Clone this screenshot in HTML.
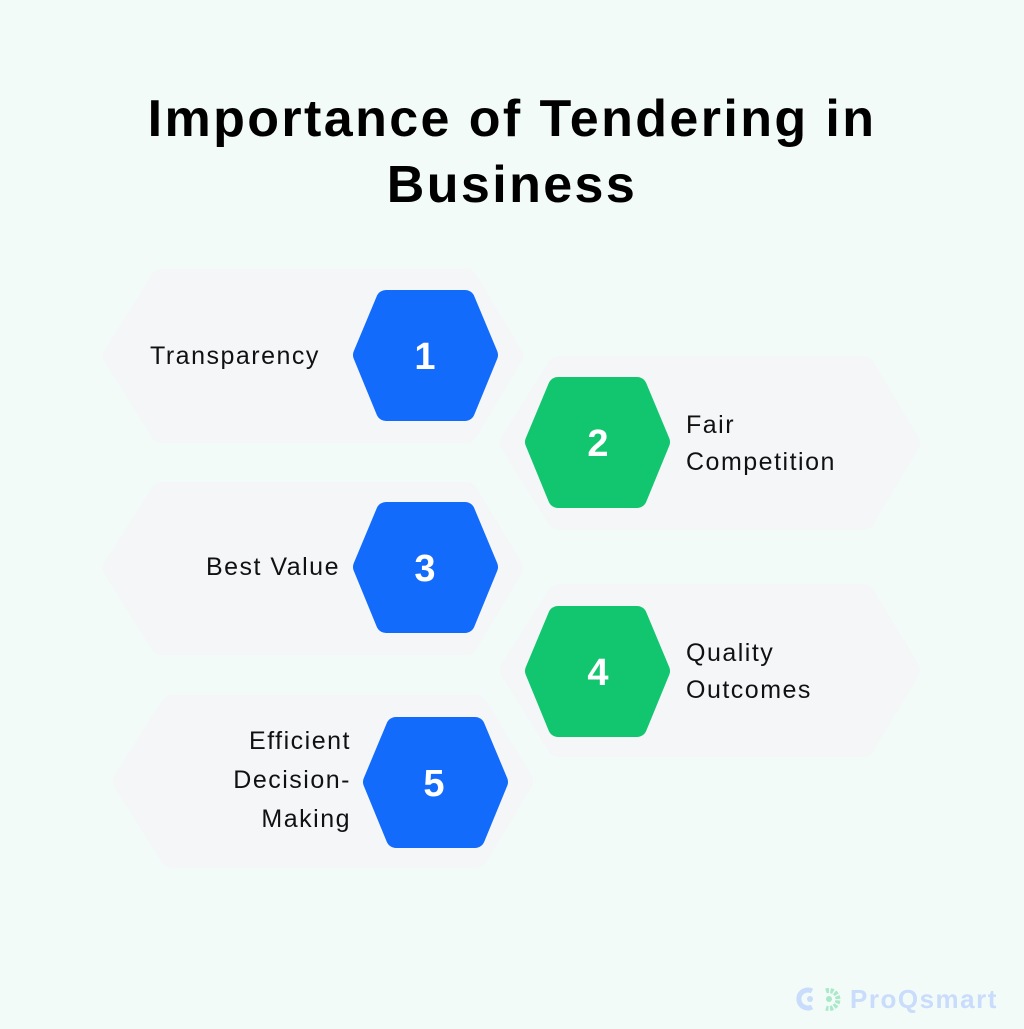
<!DOCTYPE html>
<html><head><style>
html,body{margin:0;padding:0;background:#f2fbf8;}
body{width:1024px;height:1024px;overflow:hidden;font-family:"Liberation Sans",sans-serif;}
</style></head><body>
<svg width="1024" height="1024" viewBox="0 0 1024 1024" xmlns="http://www.w3.org/2000/svg">
<rect width="1024" height="1024" fill="#f2fbf8"/>
<text x="512" y="136" text-anchor="middle" font-family="Liberation Sans" font-weight="bold" font-size="52" letter-spacing="2.4" fill="#000">Importance of Tendering in</text>
<text x="512" y="202" text-anchor="middle" font-family="Liberation Sans" font-weight="bold" font-size="52" letter-spacing="2.4" fill="#000">Business</text>
<g fill="#f4f6f8" stroke="#f4f6f8" stroke-width="24" stroke-linejoin="round">
<polygon points="162,281 466,281 511,356 466,431 162,431 115,356"/>
<polygon points="559,368 863,368 908,443 863,518 559,518 512,443"/>
<polygon points="162,494 466,494 511,568 466,643 162,643 115,568"/>
<polygon points="559,596 863,596 908,670 863,745 559,745 512,670"/>
<polygon points="172,707 476,707 521,781 476,856 172,856 125,781"/>
</g>
<g stroke-width="20" stroke-linejoin="round">
<polygon fill="#136bfb" stroke="#136bfb" points="386,300 465,300 488,355 465,411 386,411 363,355"/>
<polygon fill="#12c66f" stroke="#12c66f" points="558,387 637,387 660,442 637,498 558,498 535,442"/>
<polygon fill="#136bfb" stroke="#136bfb" points="386,512 465,512 488,567 465,623 386,623 363,567"/>
<polygon fill="#12c66f" stroke="#12c66f" points="558,616 637,616 660,671 637,727 558,727 535,671"/>
<polygon fill="#136bfb" stroke="#136bfb" points="396,727 475,727 498,782 475,838 396,838 373,782"/>
</g>
<g font-family="Liberation Sans" font-weight="bold" font-size="38" fill="#fff" text-anchor="middle">
<text x="425" y="369">1</text>
<text x="598" y="456">2</text>
<text x="425" y="581">3</text>
<text x="598" y="685">4</text>
<text x="434" y="796">5</text>
</g>
<g font-family="Liberation Sans" font-size="25" letter-spacing="1.5" fill="#111">
<text x="150" y="364">Transparency</text>
<text x="686" y="433">Fair</text>
<text x="686" y="470">Competition</text>
<text x="340" y="575" text-anchor="end">Best Value</text>
<text x="686" y="661">Quality</text>
<text x="686" y="698">Outcomes</text>
<text x="351" y="749" text-anchor="end">Efficient</text>
<text x="351" y="788" text-anchor="end">Decision-</text>
<text x="351" y="827" text-anchor="end">Making</text>
</g>
<g fill="none" stroke-width="5">
<path d="M812,991 A9,9 0 1 0 812,1007" stroke="#c9dcfb"/>
<circle cx="810" cy="999" r="3" fill="#c9dcfb" stroke="none"/>
<path d="M826,991 A9,9 0 1 1 826,1008" stroke="#a9e8c8" stroke-dasharray="3,1.5"/>
<circle cx="829" cy="999" r="3" fill="#a9e8c8" stroke="none"/>
</g>
<text x="850" y="1008" font-family="Liberation Sans" font-weight="bold" font-size="26" letter-spacing="1.5" fill="#c9dcfb">ProQsmart</text>
</svg>
</body></html>
